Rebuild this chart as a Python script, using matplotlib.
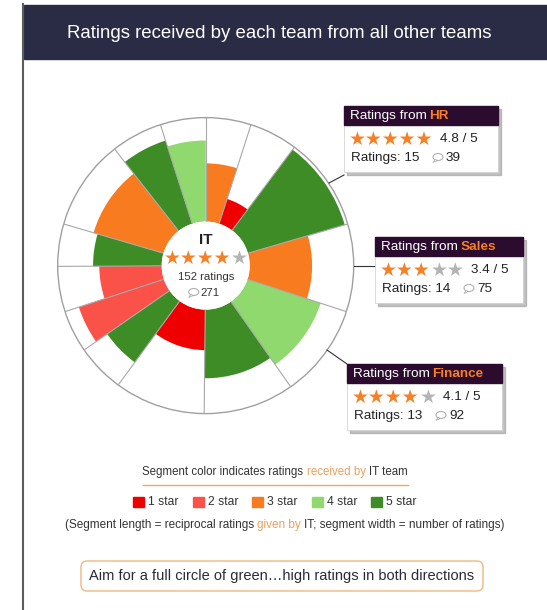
import numpy as np
import matplotlib.pyplot as plt
from matplotlib.patches import Rectangle, FancyBboxPatch, Ellipse, Polygon

plt.rcParams['font.family'] = ['Liberation Sans', 'DejaVu Sans']

W, H = 547, 610

# one wedge per rating team, clockwise from 12 o'clock
star_received = [3, 1, 5, 3, 4, 5, 1, 5, 2, 2, 5, 3, 5, 4]          # colour
rating_given = [2.8, 1.25, 4.85, 3.0, 3.7, 3.3, 1.95, 3.65, 4.3, 3.0, 3.3, 3.5, 4.2, 3.9]  # length
n_ratings = [7.5, 8, 15.5, 14.5, 15.5, 15, 15, 8, 7, 7.5, 7, 15, 8.5, 7.5]  # width

star_colors = {1: '#ee0000', 2: '#fa5249', 3: '#f97b20', 4: '#8fd96f', 5: '#3e8c26'}
legend_labels = ['1 star', '2 star', '3 star', '4 star', '5 star']

center_team = 'IT'
center_stars = 4
center_total = 152
center_comments = 271

callout_teams = ['HR', 'Sales', 'Finance']
callout_score = [4.8, 3.4, 4.1]
callout_count = [15, 14, 13]
callout_comments = [39, 75, 92]

ORANGE = '#f58025'
STAR_OFF = '#b4b4b4'

fig = plt.figure(figsize=(W / 100, H / 100), dpi=100, facecolor='white')

# polar chart (drawn underneath the overlay axes)
cx, cy, R = 205.7, 265.6, 148
hole = 44 / R
pax = fig.add_axes([(cx - R) / W, 1 - (cy + R) / H, 2 * R / W, 2 * R / H], projection='polar')
pax.set_zorder(0)
pax.set_theta_zero_location('N')
pax.set_theta_direction(-1)
pax.set_ylim(0, 5)
pax.set_rorigin(-5 * hole / (1 - hole))
widths = 2 * np.pi * np.array(n_ratings) / np.sum(n_ratings)
lefts = np.concatenate([[0], np.cumsum(widths)[:-1]])
pax.bar(lefts, rating_given, width=widths, bottom=0, align='edge',
        color=[star_colors[s] for s in star_received], edgecolor='none', zorder=2)
for t in lefts:
    pax.plot([t, t], [0, 5], color='#a8a8a8', lw=0.8, zorder=3)
pax.grid(False)
pax.set_xticks([])
pax.set_yticks([])
for name, sp in pax.spines.items():
    if name == 'polar':
        sp.set_color('#a0a0a0')
        sp.set_linewidth(1)
    else:
        sp.set_edgecolor('none')
        sp.set_linewidth(0)

bg = fig.add_axes([0, 0, 1, 1])
bg.set_zorder(1)
bg.patch.set_visible(False)
bg.set_xlim(0, W)
bg.set_ylim(H, 0)
bg.axis('off')
renderer = fig.canvas.get_renderer()


def px(pt):
    return pt * 100 / 72


def rich(x, y, parts, size, ha='center', zorder=5, gapf=0.278, family=None):
    # parts: (text, color, weight); a gap is put between parts
    texts = []
    for s, c, wgt in parts:
        if not s:
            continue
        kw = {'family': family} if family else {}
        texts.append(bg.text(0, y, s, fontsize=size, color=c, fontweight=wgt,
                             va='center', ha='left', zorder=zorder, **kw))
    gap = gapf * px(size)
    ws = [t.get_window_extent(renderer).width for t in texts]
    total = sum(ws) + gap * (len(ws) - 1)
    x0 = x - total / 2 if ha == 'center' else x
    for t, w in zip(texts, ws):
        t.set_x(x0)
        x0 += w + gap


def stars(x, y, n_on, size=13.6, ha='left'):
    rich(x, y, [('\u2605' * n_on, ORANGE, 'normal'),
                ('\u2605' * (5 - n_on), STAR_OFF, 'normal')],
         size, ha=ha, zorder=6, gapf=0, family='DejaVu Sans')


def bubble(x, y):
    bg.add_patch(Ellipse((x, y - 1), 10, 7, fill=False, ec='#b0b0b0', lw=0.8, zorder=6))
    bg.add_patch(Polygon([[x - 3, y + 1.5], [x - 5, y + 4.5], [x - 0.5, y + 2.5]],
                         closed=True, fc='white', ec='#b0b0b0', lw=0.6, zorder=6))


# panel frame and title bar
bg.plot([23, 23], [4, H], color='#5c5c5c', lw=1.5, zorder=3)
bg.add_patch(Rectangle((24, 5), W - 24, 54, color='#2a2c45', zorder=2))
bg.text(279, 33, 'Ratings received by each team from all other teams', color='white',
        fontsize=13.4, ha='center', va='center', zorder=4)

# centre of the chart
bg.text(cx, 240, center_team, fontsize=11, fontweight='bold', color='#222', ha='center', va='center')
stars(cx, 258, center_stars, size=13.6, ha='center')
bg.text(cx, 277, f'{center_total} ratings', fontsize=8.2, color='#333', ha='center', va='center')
bubble(cx - 12, 293)
bg.text(cx - 5, 293, str(center_comments), fontsize=8.2, color='#333', ha='left', va='center')

# callout boxes
box_x = [344, 375, 347]
box_y = [106, 237, 364]
box_w = [154, 148, 155]
links = [[(329, 183), (344, 175)], [(354, 266), (375, 266)], [(327, 350), (347, 364)]]
for k in range(3):
    x, y, w = box_x[k], box_y[k], box_w[k]
    bg.add_patch(Rectangle((x + 3, y + 3), w, 66, color='#9a9a9a', alpha=0.6, zorder=3))
    bg.add_patch(Rectangle((x, y), w, 66, fc='white', ec='#cccccc', lw=0.5, zorder=4))
    bg.add_patch(Rectangle((x, y), w, 19, color='#2b0b2e', zorder=4))
    rich(x + 6, y + 10, [('Ratings from', 'white', 'normal'),
                         (callout_teams[k], ORANGE, 'bold')], 9.7, ha='left', gapf=0.2)
    stars(x + 5, y + 33, int(round(callout_score[k])))
    bg.text(x + 96, y + 33, f'{callout_score[k]} / 5', fontsize=9.7, color='#222', va='center', zorder=6)
    bg.text(x + 7, y + 52, f'Ratings: {callout_count[k]}', fontsize=9.7, color='#222', va='center', zorder=6)
    bubble(x + 94, y + 52)
    bg.text(x + 102, y + 52, str(callout_comments[k]), fontsize=9.7, color='#222', va='center', zorder=6)
    (x1, y1), (x2, y2) = links[k]
    bg.plot([x1, x2], [y1, y2], color='#333', lw=0.8, zorder=3)

# colour legend
rich(275, 472, [('Segment color indicates ratings', '#333', 'normal'),
                ('received by', '#eda05e', 'normal'),
                ('IT team', '#333', 'normal')], 8.3)
bg.plot([143, 408], [485, 485], color='#f0a868', lw=1)

items = []
for i, lab in enumerate(legend_labels):
    t = bg.text(0, 502, lab, fontsize=8.7, color='#333', va='center', ha='left')
    items.append((t, t.get_window_extent(renderer).width))
sq, pad, gap = 11, 4, 14
total = sum(sq + pad + w for _, w in items) + gap * (len(items) - 1)
x0 = 275 - total / 2
for i, (t, w) in enumerate(items):
    bg.add_patch(Rectangle((x0, 497), sq, 10, color=star_colors[i + 1]))
    t.set_x(x0 + sq + pad)
    x0 += sq + pad + w + gap

rich(285, 525, [('(Segment length = reciprocal ratings', '#333', 'normal'),
                ('given by', '#eda05e', 'normal'),
                ('IT; segment width = number of ratings)', '#333', 'normal')], 8.5)

# bottom note
bg.add_patch(FancyBboxPatch((81, 561), 402, 30, boxstyle='round,pad=0,rounding_size=6',
                            fc='white', ec='#f0b880', lw=1))
bg.text(282, 576, 'Aim for a full circle of green\u2026high ratings in both directions',
        fontsize=10.5, color='#2a2a3a', ha='center', va='center')

fig.savefig('out.png', dpi=100, facecolor='white')
